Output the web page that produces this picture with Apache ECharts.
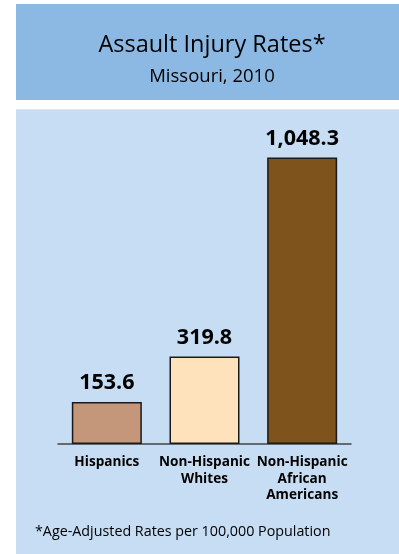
<!DOCTYPE html>
<html>
<head>
<meta charset="utf-8">
<script src="https://cdn.jsdelivr.net/npm/echarts@6/dist/echarts.min.js"></script>
<style>
html,body{margin:0;padding:0;background:#fff;}
#chart{width:399px;height:554px;}
</style>
</head>
<body>
<div id="chart"></div>
<script>
var categories = ['Hispanics', 'Non-Hispanic\nWhites', 'Non-Hispanic\nAfrican\nAmericans'];
var values = [153.6, 319.8, 1048.3];
var barColors = ['#c4967a', '#fee2bb', '#7e531c'];
var titleText = 'Assault Injury Rates*';
var subtitleText = 'Missouri, 2010';
var footnote = '*Age-Adjusted Rates per 100,000 Population';

var chart = echarts.init(document.getElementById('chart'), null, {renderer: 'canvas'});
var font = '"Open Sans", "Noto Sans", sans-serif';
chart.setOption({
  animation: false,
  backgroundColor: '#ffffff',
  graphic: [
    {type: 'rect', z: -10, shape: {x: 16, y: 4, width: 383, height: 96}, style: {fill: '#8cb9e3'}},
    {type: 'rect', z: -10, shape: {x: 16, y: 109, width: 383, height: 445}, style: {fill: '#c6ddf3'}},
    {type: 'rect', z: -9, shape: {x: 16, y: 109, width: 383, height: 1}, style: {fill: '#d8e8f7'}},
    {type: 'text', left: 35, top: 525, style: {text: footnote, font: '14.3px ' + font, fill: '#000'}}
  ],
  title: {
    text: titleText,
    subtext: subtitleText,
    left: 207,
    textAlign: 'center',
    top: 28,
    itemGap: 10,
    textStyle: {fontFamily: font, fontSize: 23.5, fontWeight: 'normal', color: '#000'},
    subtextStyle: {fontFamily: font, fontSize: 18.5, color: '#000'}
  },
  grid: {left: 58, right: 48, top: 116, bottom: 110, containLabel: false},
  xAxis: {
    type: 'category',
    data: categories,
    axisLine: {lineStyle: {color: '#444', width: 1.5}},
    axisTick: {show: false},
    axisLabel: {fontFamily: font, fontSize: 13.6, fontWeight: 'bold', color: '#000', lineHeight: 16.5, margin: 10, interval: 0}
  },
  yAxis: {
    type: 'value', min: 0, max: 1200,
    show: false
  },
  series: [{
    type: 'bar',
    barWidth: 70,
    data: values.map(function(v, i){ return {value: v, itemStyle: {color: barColors[i]}}; }),
    itemStyle: {borderColor: '#1a1a1a', borderWidth: 1.5},
    label: {
      show: true, position: 'top', distance: 8,
      fontFamily: font, fontSize: 21.5, fontWeight: 'bold', color: '#000',
      formatter: function(p){ return p.value.toLocaleString('en-US', {minimumFractionDigits: 1, maximumFractionDigits: 1}); }
    }
  }]
});
</script>
</body>
</html>
